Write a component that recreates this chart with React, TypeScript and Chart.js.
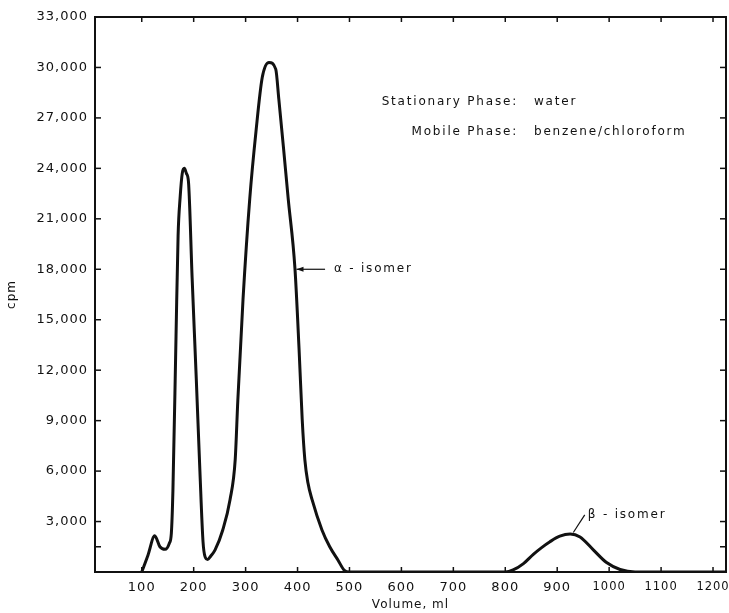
import React, { useEffect, useRef } from 'react';
import { Chart, registerables } from 'chart.js';

Chart.register(...registerables);

// Elution volume (ml) and counts per minute
const volumeMl = [
  100, 112, 125, 135, 145, 153, 157, 160, 166, 170, 174, 178, 182, 186, 190,
  197, 205, 212, 218, 222, 227, 233, 241, 256, 270, 280, 285, 295, 308, 320,
  332, 345, 358, 364, 373, 382, 395, 403, 409, 414, 420, 428, 447, 462, 478,
  490, 500, 600, 700, 800, 815, 835, 854, 870, 886, 905, 925, 944, 970, 995,
  1021, 1050, 1100, 1200, 1225,
];
const cpmValues = [
  0, 1000, 2150, 1500, 1350, 1700, 2300, 4800, 14000, 20000, 22300, 23700, 24000, 23700, 23200,
  17500, 11500, 6000, 1800, 900, 750, 950, 1300, 2500, 4300, 6700, 10200, 16200, 22200, 26200,
  29400, 30300, 29900, 28100, 25200, 22200, 18050, 13200, 9050, 6700, 5300, 4300, 2500, 1500, 700,
  100, 0, 0, 0, 0, 120, 500, 1050, 1450, 1800, 2130, 2260, 2080, 1300, 560,
  150, 0, 0, 0, 0,
];

const xTickValues = [100, 200, 300, 400, 500, 600, 700, 800, 900, 1000, 1100, 1200];
const yTickValues = [3000, 6000, 9000, 12000, 15000, 18000, 21000, 24000, 27000, 30000, 33000];
const yExtraTicks = [1500];

const phaseLabels = ['Stationary Phase:', 'Mobile Phase:'];
const phaseValues = ['water', 'benzene/chloroform'];
const alphaLabel = 'α - isomer';
const betaLabel = 'β - isomer';

const FONT = '"DejaVu Sans", sans-serif';
const INK = '#111';

export default function App() {
  const ref = useRef<HTMLCanvasElement | null>(null);

  useEffect(() => {
    if (!ref.current) return;
    const setSpacing = (chart: any, s: string) => {
      try { (chart.ctx as any).letterSpacing = s; } catch (e) { /* ignore */ }
    };

    const spacingPlugin = {
      id: 'spacing',
      beforeLayout(chart: any) { setSpacing(chart, '1px'); },
      beforeDraw(chart: any) { setSpacing(chart, '1px'); },
    };

    const framePlugin = {
      id: 'frame',
      afterDraw(chart: any) {
        const { ctx, chartArea, scales } = chart;
        const { left, right, top, bottom } = chartArea;
        const x = scales.x;
        const y = scales.y;
        ctx.save();
        ctx.strokeStyle = INK;
        ctx.lineWidth = 2;
        ctx.strokeRect(left, top, right - left, bottom - top);
        ctx.lineWidth = 1.5;
        const seg = (a: number, b: number, c: number, d: number) => {
          ctx.beginPath(); ctx.moveTo(a, b); ctx.lineTo(c, d); ctx.stroke();
        };
        for (const v of xTickValues) {
          const px = x.getPixelForValue(v);
          seg(px, bottom, px, bottom - 5);
          seg(px, top, px, top + 5);
        }
        for (const v of [...yExtraTicks, ...yTickValues]) {
          const py = y.getPixelForValue(v);
          seg(left, py, left + 6, py);
          seg(right, py, right - 6, py);
        }

        // Annotations
        (ctx as any).letterSpacing = '1.8px';
        ctx.fillStyle = INK;
        ctx.font = `12px ${FONT}`;
        ctx.textBaseline = 'middle';
        ctx.textAlign = 'right';
        ctx.fillText(phaseLabels[0], 518, 102);
        ctx.fillText(phaseLabels[1], 518, 132);
        ctx.textAlign = 'left';
        ctx.fillText(phaseValues[0], 534, 102);
        ctx.fillText(phaseValues[1], 534, 132);

        // alpha arrow
        const ay = y.getPixelForValue(18000);
        const tipX = x.getPixelForValue(398);
        const tailX = x.getPixelForValue(453);
        ctx.lineWidth = 1.2;
        seg(tailX, ay, tipX, ay);
        ctx.beginPath();
        ctx.moveTo(tipX, ay);
        ctx.lineTo(tipX + 7, ay - 2.5);
        ctx.lineTo(tipX + 7, ay + 2.5);
        ctx.closePath();
        ctx.fill();
        ctx.fillText(alphaLabel, x.getPixelForValue(470), ay);

        // beta leader
        const b1x = x.getPixelForValue(931), b1y = y.getPixelForValue(2350);
        const b2x = x.getPixelForValue(953), b2y = y.getPixelForValue(3400);
        seg(b1x, b1y, b2x, b2y);
        ctx.fillText(betaLabel, x.getPixelForValue(959), b2y);
        ctx.restore();
      },
    };

    const points = volumeMl.map((v, i) => ({ x: v, y: cpmValues[i] }));

    const chart = new Chart(ref.current, {
      type: 'line',
      data: {
        datasets: [
          {
            data: points,
            borderColor: INK,
            borderWidth: 3,
            pointRadius: 0,
            cubicInterpolationMode: 'monotone',
            borderJoinStyle: 'round',
            borderCapStyle: 'round',
            fill: false,
          },
        ],
      },
      options: {
        animation: false,
        responsive: true,
        maintainAspectRatio: false,
        layout: { padding: { left: 0, right: 3, top: 17, bottom: 0 } },
        plugins: { legend: { display: false }, tooltip: { enabled: false } },
        scales: {
          x: {
            type: 'linear',
            min: 10,
            max: 1225,
            grid: { display: false, drawTicks: false },
            border: { display: false },
            afterBuildTicks: (s: any) => { s.ticks = xTickValues.map((v) => ({ value: v })); },
            afterFit: (s: any) => { s.height = 41; s.paddingLeft = 0; s.paddingRight = 0; },
            ticks: {
              color: INK,
              padding: 8,
              maxRotation: 0,
              autoSkip: false,
              font: (c: any) => ({ family: FONT, size: c.tick && c.tick.value >= 1000 ? 11.5 : 13 }),
              callback: (v: any) => String(v),
            },
            title: {
              display: true,
              text: 'Volume, ml',
              color: INK,
              font: { family: FONT, size: 12 },
              padding: { top: 0, bottom: 1 },
            },
          },
          y: {
            type: 'linear',
            min: 0,
            max: 33000,
            grid: { display: false, drawTicks: false },
            border: { display: false },
            afterBuildTicks: (s: any) => { s.ticks = yTickValues.map((v) => ({ value: v })); },
            afterFit: (s: any) => { s.width = 95; s.paddingTop = 0; s.paddingBottom = 0; },
            ticks: {
              color: INK,
              padding: 7,
              autoSkip: false,
              font: { family: FONT, size: 13 },
              callback: (v: any) => Number(v).toLocaleString('en-US'),
            },
            title: {
              display: true,
              text: 'cpm',
              color: INK,
              font: { family: FONT, size: 12 },
              padding: { top: 5, bottom: 0 },
            },
          },
        },
      },
      plugins: [spacingPlugin, framePlugin],
    } as any);

    return () => chart.destroy();
  }, []);

  return (
    <div style={{ position: 'fixed', left: 0, top: 0, width: 729, height: 613, background: '#fff' }}>
      <canvas ref={ref} />
    </div>
  );
}
